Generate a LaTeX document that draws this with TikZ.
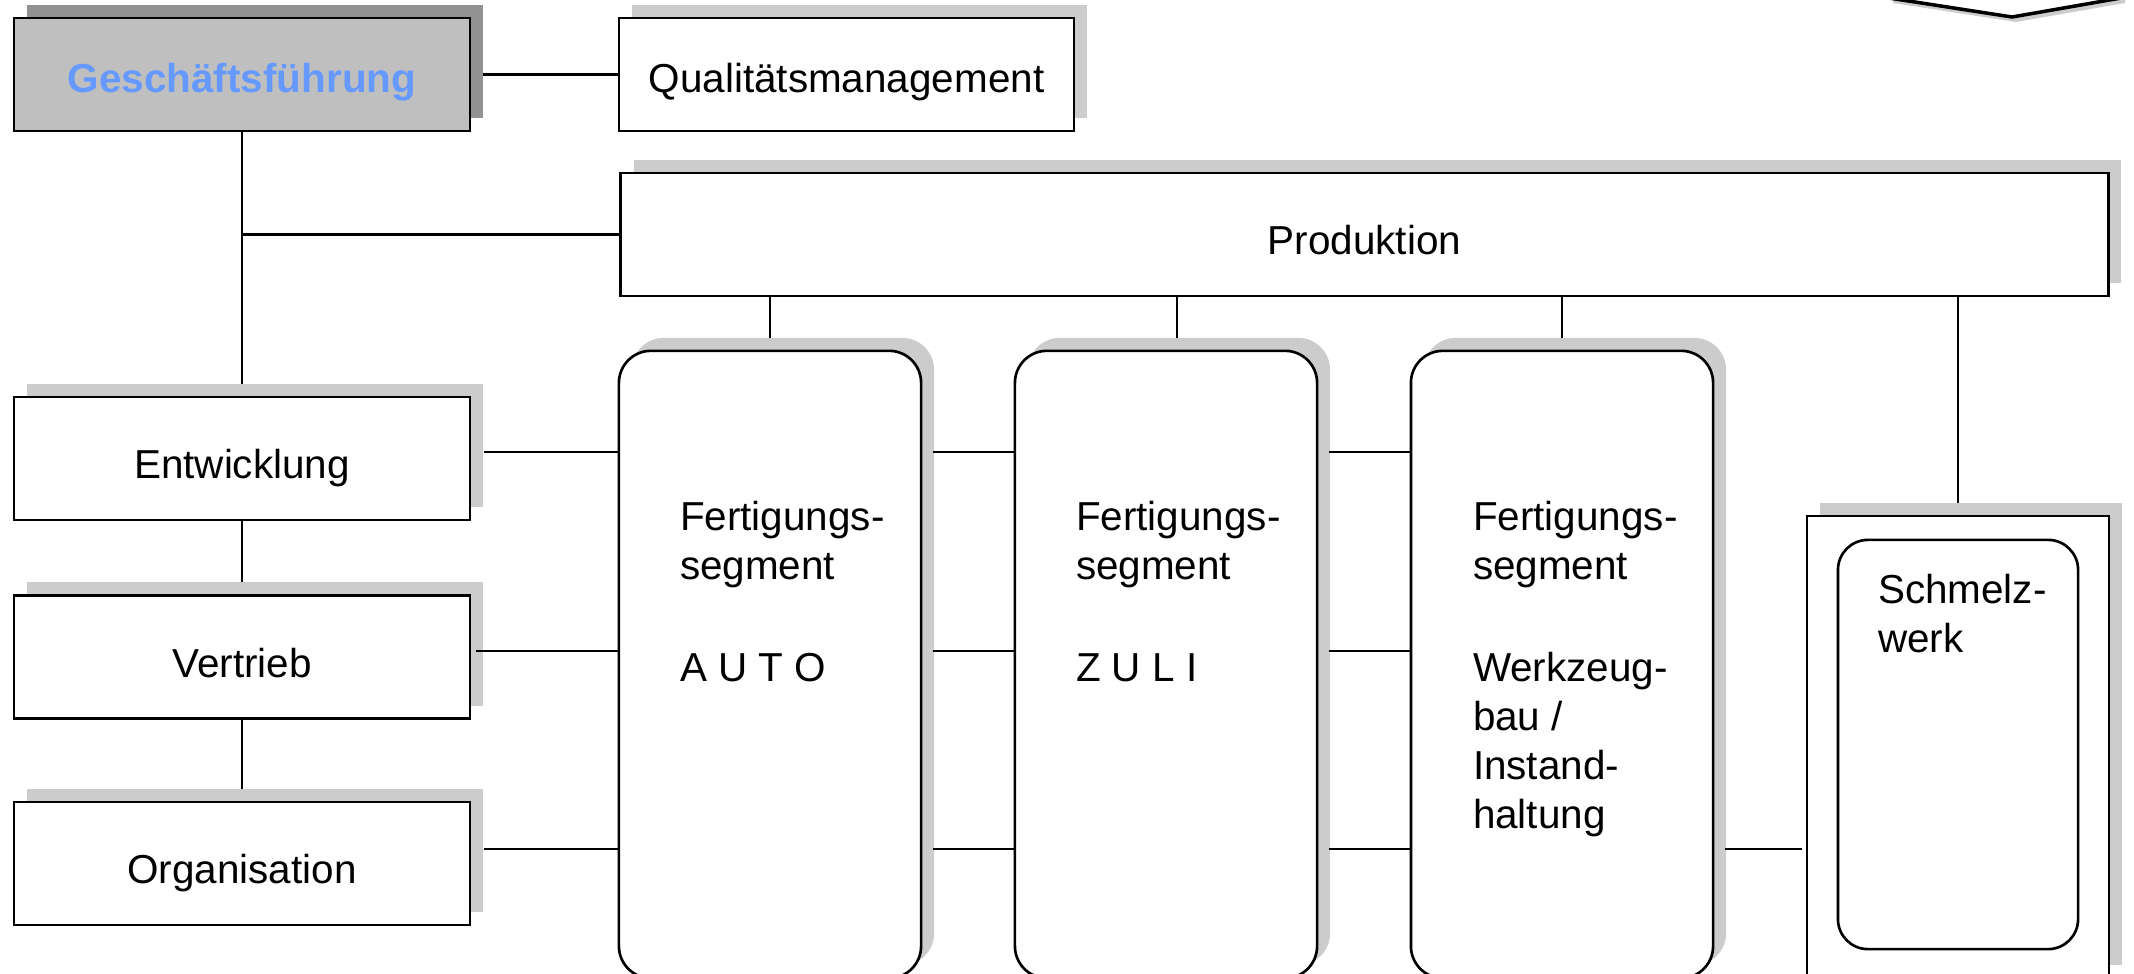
\documentclass[tikz,border=0pt]{standalone}
\usepackage{fontspec}
\setmainfont{Liberation Sans}
\usetikzlibrary{shadows}
\definecolor{shad}{HTML}{CCCCCC}
\definecolor{shaddark}{HTML}{929292}
\definecolor{gffill}{HTML}{BFBFBF}
\definecolor{gfblue}{HTML}{6699FF}
\newcommand\linestack[1]{\vtop{\baselineskip=0.49cm\lineskip=0pt\lineskiplimit=-20pt\halign{##\hfil\cr#1\crcr}}}
\newcommand\gapline{\cr\noalign{\kern0.04cm}\cr}
\begin{document}
\begin{tikzpicture}[x=0.01cm,y=-0.01cm,
  txt/.style={font=\fontsize{11.5pt}{13.9pt}\selectfont},
  plainbox/.style={txt, draw, line width=0.75pt, fill=white, inner sep=0pt, outer sep=0pt, text height=0.40cm, text depth=0.04cm},
  box/.style={plainbox, general shadow={fill=shad, shadow xshift=0.13cm, shadow yshift=0.13cm}},
  gfbox/.style={plainbox, fill=gffill, general shadow={fill=shaddark, shadow xshift=0.13cm, shadow yshift=0.13cm}},
  rbox/.style={box, rounded corners=0.32cm, minimum width=3.02cm, minimum height=6.27cm},
  lbox/.style={box, minimum width=4.56cm, minimum height=1.23cm, text height=0.44cm},
  conn/.style={line width=0.6pt},
  lbl/.style={txt, anchor=base west, inner sep=0pt, outer sep=0pt}
]
\useasboundingbox (0,0) rectangle (2134,973);
\clip (0,0) rectangle (2134,973);

% top-right partial shape
\fill[shad] (1893,3) -- (2016,22) -- (2125,3) -- (2125,-50) -- (1893,-50) -- cycle;
\draw[line width=1pt, fill=white] (1889,-2) -- (2012,17) -- (2121,-2) -- (2121,-50) -- (1889,-50) -- cycle;

% boxes
\node[gfbox, minimum width=4.56cm, minimum height=1.13cm, text=gfblue, font=\fontsize{11.5pt}{13.9pt}\selectfont\bfseries] (gf) at (242,74.5) {Geschäftsführung};
\node[box, minimum width=4.55cm, minimum height=1.13cm] (qm) at (846.5,74.5) {Qualitätsmanagement};
\node[box, minimum width=14.87cm, minimum height=1.23cm, text height=0.44cm] (prod) at (1364.5,234.5) {Produktion};

\node[lbox] (ent) at (242,458.5) {Entwicklung};
\node[lbox] (ver) at (242,657) {Vertrieb};
\node[lbox] (org) at (242,863.5) {Organisation};

\node[rbox] (f1) at (770,664.5) {};
\node[rbox] (f2) at (1166,664.5) {};
\node[rbox] (f3) at (1562,664.5) {};

\node[box, minimum width=3.02cm, minimum height=4.62cm] (sw) at (1958,747) {};
\node[draw, line width=0.75pt, rounded corners=0.30cm, minimum width=2.40cm, minimum height=4.09cm, inner sep=0pt, outer sep=0pt] (swi) at (1958,744.5) {};

% texts in segments
\node[lbl] (t1) at (680,530) {\linestack{Fertigungs-\cr segment\gapline A U T O}};
\node[lbl] (t2) at (1076,530) {\linestack{Fertigungs-\cr segment\gapline Z U L I}};
\node[lbl] (t3) at (1473,530) {\linestack{Fertigungs-\cr segment\gapline Werkzeug-\cr bau /\cr Instand-\cr haltung}};
\node[lbl] (swt) at (1878,603) {\linestack{Schmelz-\cr werk}};

% helper coordinates
\coordinate (L1) at (0,452);
\coordinate (L2) at (0,651);
\coordinate (L3) at (0,849);
\path ([xshift=0.14cm]ent.east) coordinate (entR)
      ([xshift=0.06cm]ver.east) coordinate (verR)
      ([xshift=0.14cm]org.east) coordinate (orgR)
      ([xshift=0.12cm]f1.east) coordinate (f1R)
      ([xshift=0.12cm]f2.east) coordinate (f2R)
      ([xshift=0.12cm]f3.east) coordinate (f3R)
      ([xshift=-0.05cm]sw.west) coordinate (swL)
      ([xshift=0.11cm]f2.north) coordinate (f2top);

% connectors
\draw[conn] ([xshift=0.13cm]gf.east) -- (qm.west);
\draw[conn] (gf.south) -- ([yshift=0.13cm]ent.north);
\draw[conn] (gf.south |- prod.west) -- (prod.west);
\draw[conn] (ent.south) -- ([yshift=0.13cm]ver.north);
\draw[conn] (ver.south) -- ([yshift=0.13cm]org.north);

\draw[conn] (prod.south -| f1.north) -- ([yshift=0.13cm]f1.north);
\draw[conn] (prod.south -| f2top) -- ([yshift=0.13cm]f2top);
\draw[conn] (prod.south -| f3.north) -- ([yshift=0.13cm]f3.north);
\draw[conn] (prod.south -| sw.north) -- ([yshift=0.13cm]sw.north);

\draw[conn] (entR |- L1) -- (f1.west |- L1);
\draw[conn] (verR |- L2) -- (f1.west |- L2);
\draw[conn] (orgR |- L3) -- (f1.west |- L3);
\draw[conn] (f1R |- L1) -- (f2.west |- L1);
\draw[conn] (f1R |- L2) -- (f2.west |- L2);
\draw[conn] (f1R |- L3) -- (f2.west |- L3);
\draw[conn] (f2R |- L1) -- (f3.west |- L1);
\draw[conn] (f2R |- L2) -- (f3.west |- L2);
\draw[conn] (f2R |- L3) -- (f3.west |- L3);
\draw[conn] (f3R |- L3) -- (swL |- L3);
\end{tikzpicture}
\end{document}
